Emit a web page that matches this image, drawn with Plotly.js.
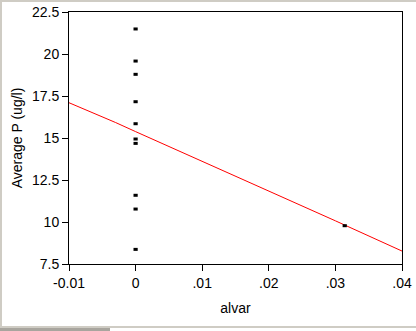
<!DOCTYPE html>
<html>
<head>
<meta charset="utf-8">
<script src="https://cdn.plot.ly/plotly-3.0.1.min.js"></script>
<style>
  html, body { margin: 0; padding: 0; background: #ffffff; }
  #wrap { position: relative; width: 416px; height: 331px; overflow: hidden; }
  #chart { width: 416px; height: 331px; }
  .frame { position: absolute; background: #cfccc4; }
</style>
</head>
<body>
<div id="wrap">
  <div id="chart"></div>
  <div class="frame" style="left:0;top:0;width:416px;height:2px;"></div>
  <div class="frame" style="left:0;top:0;width:2px;height:331px;"></div>
  <div class="frame" style="left:0;top:326px;width:416px;height:2px;"></div>
  <div class="frame" style="left:0;top:328px;width:110px;height:3px;background:#a8a59e;"></div>
</div>
<script>
// Observed points
const alvarPts = [0, 0, 0, 0, 0, 0, 0, 0, 0, 0, 0.0314];
const avgP = [21.49, 19.58, 18.79, 17.16, 15.85, 14.94, 14.68, 11.59, 10.77, 8.37, 9.78];

// Fitted line (red)
const fitX = [-0.01, -0.006, -0.003, 0, 0.003, 0.006, 0.01, 0.013, 0.02, 0.03, 0.04];
const fitY = [17.1, 16.45, 15.92, 15.38, 14.85, 14.32, 13.62, 13.05, 11.83, 10.07, 8.27];

const xTickVals = [-0.01, 0, 0.01, 0.02, 0.03, 0.04];
const xTickText = ['-0.01', '0', '.01', '.02', '.03', '.04'];
const yTickVals = [7.5, 10, 12.5, 15, 17.5, 20, 22.5];
const yTickText = ['7.5', '10', '12.5', '15', '17.5', '20', '22.5'];

const traces = [
  {
    x: fitX, y: fitY, type: 'scatter', mode: 'lines',
    line: { color: '#ff0000', width: 1 },
    hoverinfo: 'skip', showlegend: false
  },
  {
    x: alvarPts, y: avgP, type: 'scatter', mode: 'markers',
    marker: { symbol: 'line-ew', size: 3, color: '#000000', line: { color: '#000000', width: 3 } },
    showlegend: false
  }
];

const layout = {
  width: 416, height: 331,
  margin: { l: 69, r: 14, t: 12, b: 67 },
  paper_bgcolor: '#ffffff', plot_bgcolor: '#ffffff',
  font: { family: 'Liberation Sans, Arial, sans-serif', size: 14, color: '#000000' },
  showlegend: false,
  xaxis: {
    range: [-0.01, 0.04],
    tickvals: xTickVals, ticktext: xTickText,
    ticks: 'outside', ticklen: 6, tickwidth: 1, tickcolor: '#000',
    showline: true, linecolor: '#000', linewidth: 1, mirror: true,
    showgrid: false, zeroline: false,
    tickfont: { size: 14 },
    title: { text: 'alvar', font: { size: 14 }, standoff: 13 }
  },
  yaxis: {
    range: [7.5, 22.5],
    tickvals: yTickVals, ticktext: yTickText,
    ticks: 'outside', ticklen: 6, tickwidth: 1, tickcolor: '#000',
    showline: true, linecolor: '#000', linewidth: 1, mirror: true,
    showgrid: false, zeroline: false,
    tickfont: { size: 14 },
    title: { text: 'Average P (ug/l)', font: { size: 14 }, standoff: 6 }
  }
};

Plotly.newPlot('chart', traces, layout, { displayModeBar: false, staticPlot: true });
</script>
</body>
</html>
